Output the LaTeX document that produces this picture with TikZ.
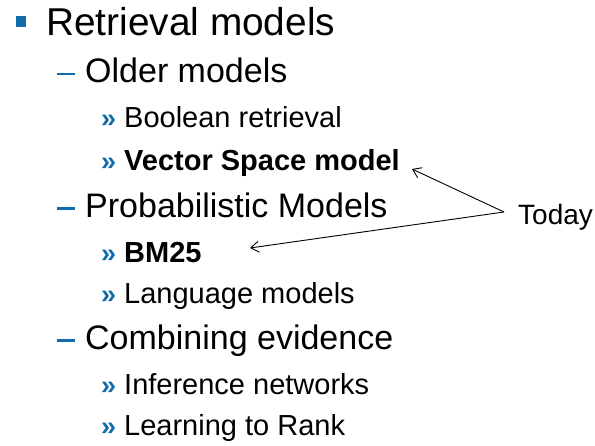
\documentclass[tikz,border=0pt]{standalone}
\usepackage{fontspec}
\setmainfont{Liberation Sans}
\usetikzlibrary{arrows.meta}
\definecolor{bulletblue}{RGB}{16,108,170}
\tikzset{
  lvlone/.style={anchor=base west, inner sep=0pt, font=\fontsize{38.8}{40}\selectfont},
  lvltwo/.style={anchor=base west, inner sep=0pt, font=\fontsize{34}{36}\selectfont},
  lvlthree/.style={anchor=base west, inner sep=0pt, font=\fontsize{29}{31}\selectfont},
  chev/.style={anchor=base west, inner sep=0pt, text=bulletblue, font=\fontsize{27}{29}\selectfont\bfseries},
  dashbar/.style={fill=bulletblue, draw=none},
  todayarrow/.style={draw=black, line width=0.9pt, -{Straight Barb[length=8pt,width=11pt,line width=0.9pt]}}
}
\begin{document}
\begin{tikzpicture}[x=1pt,y=-1pt]
\useasboundingbox (0,0) rectangle (595,446);
% level 1
\fill[bulletblue] (16,16) rectangle (26,27);
\node[lvlone] (retr) at (46,36) {Retrieval models};
% level 2 dashes
\fill[dashbar] (57,73) rectangle (75,75.5);
\node[lvltwo] (older) at (85,83) {Older models};
\fill[dashbar] (57,207.5) rectangle (75,210);
\node[lvltwo] (prob) at (85,218) {Probabilistic Models};
\fill[dashbar] (57,339.5) rectangle (75,342);
\node[lvltwo] (comb) at (85,350) {Combining evidence};
% level 3
\node[chev] (c1) at (101,128) {»};
\node[lvlthree] (bool) at (124,128) {Boolean retrieval};
\node[chev] (c2) at (101,171) {»};
\node[lvlthree] (vsm) at (124,171) {\bfseries Vector Space model};
\node[chev] (c3) at (101,263) {»};
\node[lvlthree] (bm) at (124,263) {\bfseries BM25};
\node[chev] (c4) at (101,304) {»};
\node[lvlthree] (lang) at (124,304) {Language models};
\node[chev] (c5) at (101,395) {»};
\node[lvlthree] (infer) at (124,395) {Inference networks};
\node[chev] (c6) at (101,436) {»};
\node[lvlthree] (ltr) at (124,436) {Learning to Rank};
% Today
\node[anchor=base west, inner sep=0pt, font=\fontsize{28}{30}\selectfont] (today) at (518,225) {Today};
\coordinate (src) at (504,212);
\coordinate (tipvsm) at (412,169);
\coordinate (tipbm) at (250,248);
\draw[todayarrow] (src) -- (tipvsm);
\draw[todayarrow] (src) -- (tipbm);
\end{tikzpicture}
\end{document}
